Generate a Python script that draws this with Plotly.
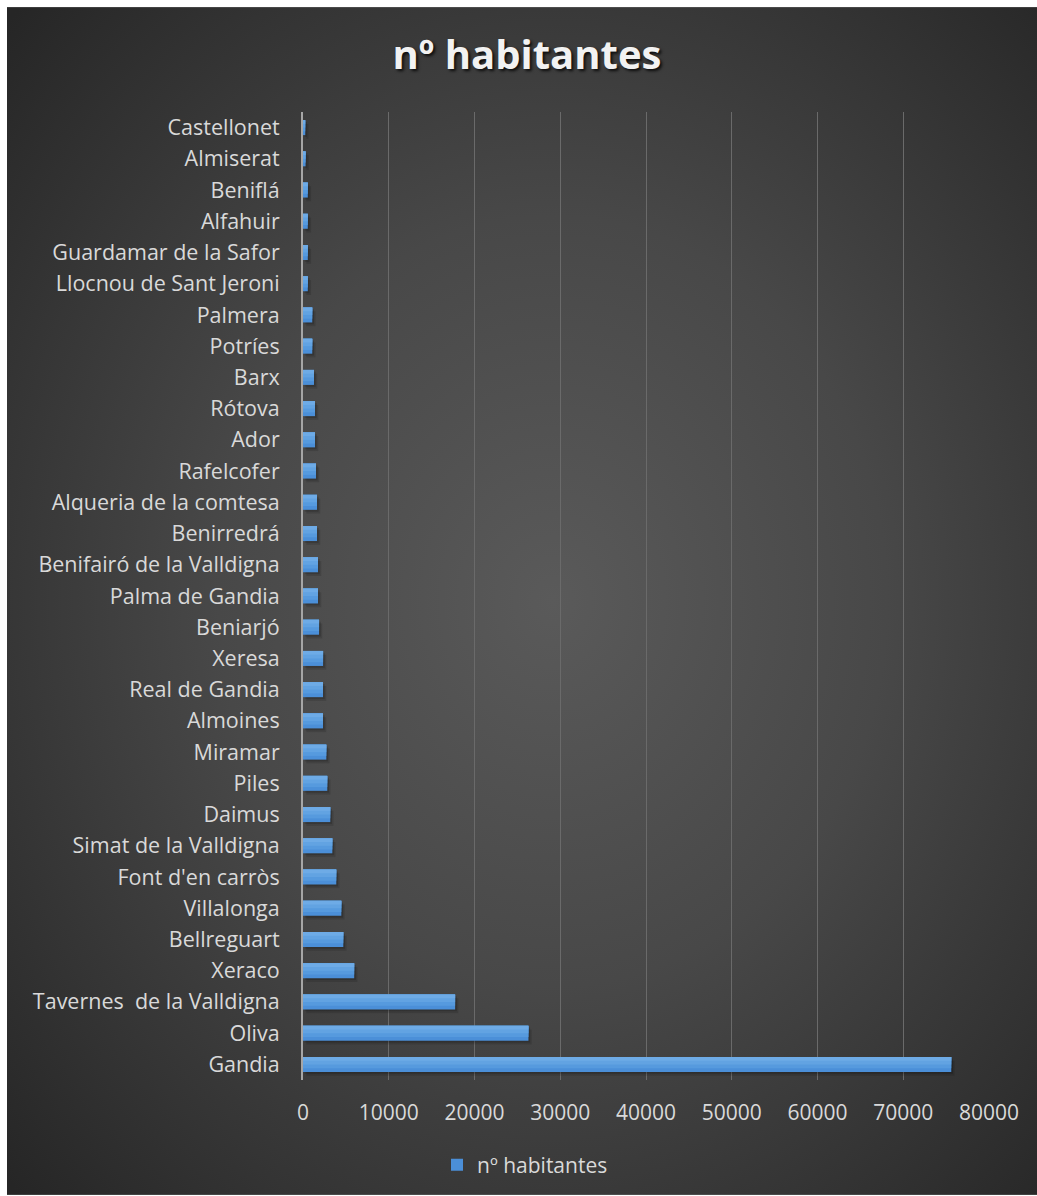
import base64
import plotly.graph_objects as go

# Municipios de la Safor y población (nº habitantes)
municipios = [
    "Gandia", "Oliva", "Tavernes\u00a0 de la Valldigna", "Xeraco", "Bellreguart",
    "Villalonga", "Font d'en carròs", "Simat de la Valldigna", "Daimus", "Piles",
    "Miramar", "Almoines", "Real de Gandia", "Xeresa", "Beniarjó",
    "Palma de Gandia", "Benifairó de la Valldigna", "Benirredrá",
    "Alqueria de la comtesa", "Rafelcofer", "Ador", "Rótova", "Barx",
    "Potríes", "Palmera", "Llocnou de Sant Jeroni", "Guardamar de la Safor",
    "Alfahuir", "Beniflá", "Almiserat", "Castellonet",
]
habitantes = [
    75600, 26290, 17740, 5970, 4700,
    4470, 3880, 3420, 3180, 2830,
    2720, 2330, 2330, 2340, 1870,
    1750, 1750, 1630,
    1630, 1520, 1400, 1400, 1280,
    1080, 1080, 560, 560,
    560, 560, 300, 260,
]
x_ticks = [0, 10000, 20000, 30000, 40000, 50000, 60000, 70000, 80000]

W, H = 1037, 1196
M = dict(l=303, r=48, t=112, b=115)
pw = W - M["l"] - M["r"]
ph = H - M["t"] - M["b"]


def px_to_paper_x(px):
    return (px - M["l"]) / pw


def px_to_paper_y(py):
    return (H - M["b"] - py) / ph


# Radial dark-grey background (chart area style)
bg_svg = (
    '<svg xmlns="http://www.w3.org/2000/svg" width="1030" height="1189" '
    'preserveAspectRatio="none" viewBox="0 0 1030 1189">'
    '<defs><radialGradient id="g" cx="0.53" cy="0.5" r="0.72">'
    '<stop offset="0" stop-color="#5a5a5a"/>'
    '<stop offset="0.45" stop-color="#484848"/>'
    '<stop offset="1" stop-color="#262626"/>'
    '</radialGradient></defs>'
    '<rect width="1030" height="1189" fill="url(#g)"/></svg>'
)
bg_uri = "data:image/svg+xml;base64," + base64.b64encode(bg_svg.encode()).decode()

fig = go.Figure()

bar_w = 0.48
half = bar_w / 2

# soft drop shadow beneath each bar, built from two faint offset layers
for base, drop, alpha in [(200, 0.06, 0.16), (380, 0.12, 0.12)]:
    fig.add_trace(go.Bar(
        y=municipios, x=habitantes, base=base, orientation="h",
        width=bar_w, offset=-half - drop,
        marker=dict(color=f"rgba(0,0,0,{alpha})", line=dict(width=0)),
        showlegend=False, hoverinfo="skip",
    ))

# bars with a vertical light-to-dark blue gradient built from nested layers
layers = [
    ("#4b8fd8", -half, bar_w, True),
    ("#569ade", -half + 0.12, bar_w - 0.12, False),
    ("#62a3e2", -half + 0.24, bar_w - 0.24, False),
    ("#6eabe6", -half + 0.36, bar_w - 0.36, False),
]
for color, off, wid, show in layers:
    fig.add_trace(go.Bar(
        y=municipios, x=habitantes, orientation="h",
        width=wid, offset=off,
        name="nº habitantes",
        marker=dict(color=color, line=dict(width=0)),
        showlegend=show, hoverinfo="x+y" if show else "skip",
    ))

fig.update_layout(
    width=W, height=H,
    margin=M,
    barmode="overlay",
    paper_bgcolor="white",
    plot_bgcolor="rgba(0,0,0,0)",
    font=dict(family="Open Sans, sans-serif", color="#d9d9d9"),
    title=dict(
        text="<b>nº habitantes</b>",
        x=px_to_paper_x(527), xref="paper", xanchor="center",
        y=1 - 55 / H, yref="container", yanchor="middle",
        font=dict(family="Open Sans, sans-serif", size=40, color="#f2f2f2",
                  shadow="2px 2px 3px rgba(0,0,0,0.8)"),
    ),
    xaxis=dict(
        range=[0, 80000],
        tickvals=x_ticks,
        ticktext=[str(v) for v in x_ticks],
        showgrid=True, gridcolor="#6a6a6a", gridwidth=1,
        zeroline=False, showline=False,
        ticks="", ticklabelstandoff=18,
        tickfont=dict(size=21, color="#d9d9d9"),
        fixedrange=True,
    ),
    yaxis=dict(
        type="category",
        showgrid=False, zeroline=False,
        showline=True, linecolor="#a6a6a6", linewidth=2,
        ticks="", ticklabelstandoff=17,
        tickfont=dict(size=21.5, color="#d9d9d9"),
        fixedrange=True,
    ),
    legend=dict(
        orientation="h",
        x=px_to_paper_x(525), xanchor="center",
        y=px_to_paper_y(1165), yanchor="middle",
        font=dict(size=21, color="#d9d9d9"),
        bgcolor="rgba(0,0,0,0)",
        itemwidth=30,
    ),
    images=[dict(
        source=bg_uri, xref="paper", yref="paper",
        x=px_to_paper_x(7), y=px_to_paper_y(7),
        sizex=1030 / pw, sizey=1189 / ph,
        xanchor="left", yanchor="top",
        sizing="stretch", layer="below",
    )],
)

fig.write_html("out.html")
